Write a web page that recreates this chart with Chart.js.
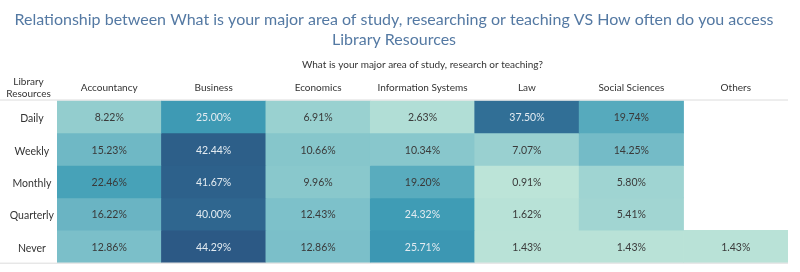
<!DOCTYPE html>
<html>
<head>
<meta charset="utf-8">
<script src="https://cdn.jsdelivr.net/npm/chart.js@4/dist/chart.umd.min.js"></script>
<style>
  html, body { margin: 0; padding: 0; background: #fff; }
  #wrap { width: 800px; height: 272px; }
</style>
</head>
<body>
<div id="wrap"><canvas id="chart"></canvas></div>
<script>
const columns = ["Accountancy", "Business", "Economics", "Information Systems", "Law", "Social Sciences", "Others"];
const rows = ["Daily", "Weekly", "Monthly", "Quarterly", "Never"];

const daily = [8.22, 25.00, 6.91, 2.63, 37.50, 19.74, null];
const weekly = [15.23, 42.44, 10.66, 10.34, 7.07, 14.25, null];
const monthly = [22.46, 41.67, 9.96, 19.20, 0.91, 5.80, null];
const quarterly = [16.22, 40.00, 12.43, 24.32, 1.62, 5.41, null];
const never = [12.86, 44.29, 12.86, 25.71, 1.43, 1.43, 1.43];

const values = [daily, weekly, monthly, quarterly, never];

// tableau blue-teal ramp
const palette = ["#bce4d8", "#aedcd5", "#a1d5d2", "#95cecf", "#89c8cc", "#7ec1ca", "#72bac6", "#66b2c2",
    "#59acbe", "#4ba5ba", "#419eb6", "#3b96b2", "#358ead", "#3586a7", "#347ea1", "#32779b",
    "#316f96", "#2f6790", "#2d608a", "#2c5985"];

const all = values.flat().filter((v) => v !== null);
const vMin = Math.min(...all);
const vMax = Math.max(...all);

function hexToRgb(h) {
    return [parseInt(h.slice(1, 3), 16), parseInt(h.slice(3, 5), 16), parseInt(h.slice(5, 7), 16)];
}

function colorFor(v) {
    if (v === null) return "rgba(0,0,0,0)";
    const t = (v - vMin) / (vMax - vMin) * (palette.length - 1);
    const i = Math.min(Math.floor(t), palette.length - 2);
    const f = t - i;
    const a = hexToRgb(palette[i]);
    const b = hexToRgb(palette[i + 1]);
    const c = a.map((x, k) => Math.round(x + (b[k] - x) * f));
    return `rgb(${c[0]},${c[1]},${c[2]})`;
}

const FONT = "Lato, 'Open Sans', sans-serif";

const cellLabels = {
    id: "cellLabels",
    afterDatasetsDraw(chart) {
        const ctx = chart.ctx;
        ctx.save();
        ctx.font = `10.5px ${FONT}`;
        ctx.textAlign = "center";
        ctx.textBaseline = "middle";
        chart.data.datasets.forEach((ds, di) => {
            const meta = chart.getDatasetMeta(di);
            meta.data.forEach((el, ci) => {
                const v = values[di][ci];
                if (v === null) return;
                const p = el.getCenterPoint();
                ctx.fillStyle = v >= 24 ? "#e3ebf1" : "#3a3a3a";
                ctx.fillText(v.toFixed(2) + "%", p.x, p.y + 1);
            });
        });
        ctx.restore();
    },
};

const frame = {
    id: "frame",
    afterDraw(chart) {
        const { ctx, chartArea } = chart;
        ctx.save();
        ctx.strokeStyle = "#dcdcdc";
        ctx.lineWidth = 1;
        ctx.beginPath();
        ctx.moveTo(0, chartArea.top - 0.5);
        ctx.lineTo(chartArea.right, chartArea.top - 0.5);
        ctx.moveTo(0, chartArea.bottom + 0.5);
        ctx.lineTo(chartArea.right, chartArea.bottom + 0.5);
        ctx.stroke();
        // row header
        ctx.fillStyle = "#333";
        ctx.font = `10px ${FONT}`;
        ctx.textAlign = "center";
        ctx.textBaseline = "middle";
        const cx = chartArea.left / 2;
        ctx.fillText("Library", cx, chartArea.top - 19);
        ctx.fillText("Resources", cx, chartArea.top - 7);
        ctx.restore();
    },
};

const ctx = document.getElementById("chart").getContext("2d");
new Chart(ctx, {
    type: "bar",
    data: {
        labels: columns,
        datasets: rows.map((r, i) => ({
            label: r,
            data: values[i].map((v) => (v === null ? null : [i, i + 1])),
            backgroundColor: values[i].map(colorFor),
            borderWidth: 0,
            barPercentage: 1,
            categoryPercentage: 1,
            grouped: false,
        })),
    },
    options: {
        responsive: true,
        maintainAspectRatio: false,
        animation: false,
        layout: { padding: { left: 0, right: 12, top: 0, bottom: 7 } },
        plugins: {
            legend: { display: false },
            tooltip: { enabled: false },
            title: {
                display: true,
                text: ["Relationship between What is your major area of study, researching or teaching VS How often do you access", "Library Resources"],
                color: "#5479a3",
                font: { family: FONT, size: 16, weight: "normal", lineHeight: 1.25 },
                padding: { top: 10, bottom: 8.5 },
            },
            subtitle: {
                display: true,
                fullSize: false,
                text: "What is your major area of study, research or teaching?",
                color: "#333",
                font: { family: FONT, size: 10, lineHeight: 1.2 },
                padding: { top: 0, bottom: 0 },
            },
        },
        scales: {
            x: {
                type: "category",
                position: "top",
                grid: { display: false, drawTicks: false },
                border: { display: false },
                afterFit: (axis) => {
                    axis.height = 30;
                },
                ticks: {
                    color: "#333",
                    font: { family: FONT, size: 10 },
                    padding: 7,
                    maxRotation: 0,
                    autoSkip: false,
                },
            },
            y: {
                type: "linear",
                min: 0,
                max: 5,
                reverse: true,
                grid: { display: false, drawTicks: false },
                border: { display: false },
                afterBuildTicks: (axis) => {
                    axis.ticks = rows.map((r, i) => ({ value: i + 0.5 }));
                },
                afterFit: (axis) => {
                    axis.width = 57;
                },
                ticks: {
                    color: "#333",
                    font: { family: FONT, size: 10.5 },
                    crossAlign: "center",
                    labelOffset: 2,
                    callback: (value) => rows[Math.floor(value)],
                },
            },
        },
    },
    plugins: [cellLabels, frame],
});
</script>
</body>
</html>
